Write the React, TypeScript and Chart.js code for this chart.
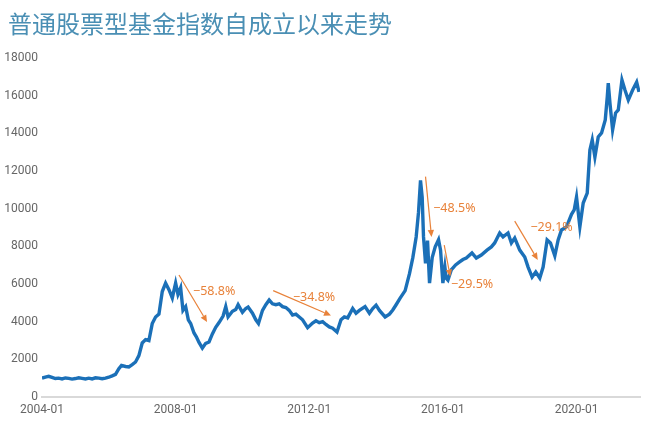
import React, { useEffect, useRef } from "react";
import { Chart, registerables } from "chart.js";

Chart.register(...registerables);

const titleText = "普通股票型基金指数自成立以来走势";

const xTickYears = [2004, 2008, 2012, 2016, 2020];
const yTickStep = 2000;

// decimal years and index values
const dateYears = [
  2004.0, 2004.1, 2004.2, 2004.3, 2004.4, 2004.5, 2004.6, 2004.7, 2004.8, 2004.9,
  2005.0, 2005.1, 2005.2, 2005.3, 2005.4, 2005.5, 2005.6, 2005.7, 2005.8, 2005.9,
  2006.0, 2006.1, 2006.2, 2006.3, 2006.38, 2006.5, 2006.6, 2006.7, 2006.8, 2006.9,
  2007.0, 2007.1, 2007.2, 2007.3, 2007.4, 2007.5, 2007.6, 2007.7, 2007.8, 2007.9,
  2008.0, 2008.07, 2008.15, 2008.22, 2008.3, 2008.38, 2008.45, 2008.55, 2008.62, 2008.7,
  2008.8, 2008.9, 2009.0, 2009.1, 2009.2, 2009.3, 2009.42, 2009.5, 2009.57, 2009.7,
  2009.8, 2009.87, 2010.0, 2010.1, 2010.17, 2010.3, 2010.4, 2010.48, 2010.6, 2010.7,
  2010.8, 2010.9, 2011.0, 2011.1, 2011.2, 2011.3, 2011.4, 2011.5, 2011.6, 2011.7,
  2011.8, 2011.95, 2012.1, 2012.2, 2012.3, 2012.4, 2012.5, 2012.6, 2012.7, 2012.83,
  2012.95, 2013.05, 2013.15, 2013.3, 2013.4, 2013.5, 2013.67, 2013.8, 2013.9, 2014.0,
  2014.1, 2014.27, 2014.4, 2014.5, 2014.6, 2014.72, 2014.87, 2015.0, 2015.1, 2015.2,
  2015.27, 2015.33, 2015.38, 2015.42, 2015.48, 2015.54, 2015.6, 2015.68, 2015.77, 2015.87,
  2015.93, 2016.0, 2016.06, 2016.1, 2016.15, 2016.25, 2016.38, 2016.5, 2016.6, 2016.7,
  2016.87, 2017.0, 2017.15, 2017.32, 2017.45, 2017.55, 2017.7, 2017.8, 2017.95, 2018.05,
  2018.15, 2018.3, 2018.45, 2018.55, 2018.67, 2018.78, 2018.9, 2019.0, 2019.12, 2019.22,
  2019.35, 2019.45, 2019.55, 2019.7, 2019.85, 2019.93, 2020.0, 2020.1, 2020.2, 2020.32,
  2020.4, 2020.47, 2020.55, 2020.65, 2020.75, 2020.86, 2020.92, 2020.95, 2021.0, 2021.08,
  2021.17, 2021.25, 2021.36, 2021.45, 2021.55, 2021.68, 2021.8, 2021.87,
];

const indexValues = [
  1000, 1060, 1100, 1040, 980, 1000, 960, 1010, 990, 950,
  980, 1020, 990, 960, 1000, 960, 1020, 1000, 970, 1000,
  1050, 1120, 1200, 1500, 1680, 1620, 1600, 1720, 1860, 2200,
  2870, 3050, 3000, 3900, 4250, 4400, 5600, 6050, 5700, 5260,
  6050, 5450, 5800, 4600, 4800, 4100, 3900, 3400, 3200, 2900,
  2600, 2850, 2920, 3350, 3700, 3950, 4300, 4800, 4250, 4550,
  4650, 4900, 4500, 4700, 4780, 4450, 4100, 3900, 4600, 4900,
  5150, 4950, 4900, 4950, 4800, 4750, 4600, 4350, 4400, 4250,
  4100, 3680, 3930, 4050, 3950, 4000, 3850, 3720, 3650, 3450,
  4100, 4250, 4200, 4700, 4450, 4600, 4800, 4450, 4700, 4880,
  4600, 4250, 4400, 4620, 4900, 5250, 5650, 6550, 7400, 8500,
  9800, 11500, 10600, 8500, 7100, 8300, 6050, 7400, 7970, 8350,
  7800, 6050, 6900, 6300, 6200, 6750, 7010, 7170, 7300, 7380,
  7650, 7380, 7540, 7800, 7970, 8180, 8710, 8500, 8710, 8180,
  8440, 7800, 7430, 6900, 6370, 6640, 6320, 6900, 8340, 8180,
  7500, 8340, 8870, 9030, 9700, 9930, 10620, 9030, 10300, 10830,
  13120, 13650, 12740, 13810, 14020, 14710, 15930, 16670, 15610, 14180,
  15080, 15240, 16830, 16300, 15770, 16300, 16720, 16200,
];

// drawdown annotations: labels, arrow start/end (year, value), text anchor
const drawdownLabels = ["−58.8%", "−34.8%", "−48.5%", "−29.5%", "−29.1%"];
const arrowStartYears = [2008.1, 2010.92, 2015.48, 2016.04, 2018.15];
const arrowStartValues = [6480, 5650, 11700, 8070, 9340];
const arrowEndYears = [2008.94, 2012.65, 2015.66, 2016.22, 2018.84];
const arrowEndValues = [3980, 4330, 8500, 6400, 7280];
const labelYears = [2008.52, 2011.51, 2015.71, 2016.24, 2018.62];
const labelValues = [5580, 5310, 10000, 6000, 9020];

const ORANGE = "#e8823a";

const annotationPlugin = {
  id: "drawdowns",
  afterDatasetsDraw(chart: any) {
    const { ctx, scales } = chart;
    const xs = scales.x;
    const ys = scales.y;
    ctx.save();
    for (let i = 0; i < drawdownLabels.length; i++) {
      const x1 = xs.getPixelForValue(arrowStartYears[i]);
      const y1 = ys.getPixelForValue(arrowStartValues[i]);
      const x2 = xs.getPixelForValue(arrowEndYears[i]);
      const y2 = ys.getPixelForValue(arrowEndValues[i]);
      const ang = Math.atan2(y2 - y1, x2 - x1);
      const head = 7;
      const hw = 3.2;
      const bx = x2 - head * Math.cos(ang);
      const by = y2 - head * Math.sin(ang);
      ctx.strokeStyle = ORANGE;
      ctx.fillStyle = ORANGE;
      ctx.lineWidth = 1.2;
      ctx.beginPath();
      ctx.moveTo(x1, y1);
      ctx.lineTo(bx, by);
      ctx.stroke();
      ctx.beginPath();
      ctx.moveTo(x2, y2);
      ctx.lineTo(bx + hw * Math.sin(ang), by - hw * Math.cos(ang));
      ctx.lineTo(bx - hw * Math.sin(ang), by + hw * Math.cos(ang));
      ctx.closePath();
      ctx.fill();
      ctx.font = "12.5px 'Noto Sans', 'Liberation Sans', sans-serif";
      ctx.textAlign = "left";
      ctx.textBaseline = "middle";
      ctx.fillText(
        drawdownLabels[i],
        xs.getPixelForValue(labelYears[i]),
        ys.getPixelForValue(labelValues[i])
      );
    }
    ctx.restore();
  },
};

export default function App() {
  const canvasRef = useRef<HTMLCanvasElement | null>(null);

  useEffect(() => {
    document.body.style.margin = "0";
    const canvas = canvasRef.current;
    if (!canvas) return;
    const points = dateYears.map((x, i) => ({ x, y: indexValues[i] }));
    const chart = new Chart(canvas, {
      type: "line",
      data: {
        datasets: [
          {
            data: points,
            borderColor: "#1b70b8",
            borderWidth: 3.4,
            pointRadius: 0,
            tension: 0,
            fill: false,
          },
        ],
      },
      options: {
        responsive: false,
        animation: false,
        layout: { padding: { left: 0, right: 10, top: 58, bottom: 0 } },
        plugins: {
          legend: { display: false },
          tooltip: { enabled: false },
          title: { display: false },
        },
        scales: {
          x: {
            type: "linear",
            min: 2004,
            max: 2021.9,
            afterBuildTicks: (scale: any) => {
              scale.ticks = xTickYears.map((v) => ({ value: v }));
            },
            afterFit: (scale: any) => {
              scale.height = 27;
            },
            ticks: {
              callback: (v: any) => `${v}-01`,
              color: "#666",
              font: { size: 12, family: "Roboto, sans-serif" },
              maxRotation: 0,
              autoSkip: false,
              padding: 6,
            },
            grid: { display: false, drawTicks: false, tickLength: 0 },
            border: { display: true, color: "#d9d9d9", width: 2 },
          },
          y: {
            min: 0,
            max: 18000,
            afterFit: (scale: any) => {
              scale.width = 42;
            },
            ticks: {
              stepSize: yTickStep,
              callback: (v: any) => String(v),
              color: "#666",
              font: { size: 12, family: "Roboto, sans-serif" },
              padding: 4,
            },
            grid: { display: false, drawTicks: false, tickLength: 0 },
            border: { display: false },
          },
        },
      },
      plugins: [annotationPlugin],
    });
    return () => chart.destroy();
  }, []);

  return (
    <div style={{ position: "fixed", left: 0, top: 0, width: 650, height: 424, background: "#fff" }}>
      <div
        style={{
          position: "absolute",
          left: 8,
          top: 8,
          fontFamily: "'Noto Sans CJK SC', sans-serif",
          fontSize: 24,
          lineHeight: "29px",
          color: "#4a8fb4",
          whiteSpace: "nowrap",
        }}
      >
        {titleText}
      </div>
      <canvas ref={canvasRef} width={650} height={424} style={{ display: "block" }} />
    </div>
  );
}
